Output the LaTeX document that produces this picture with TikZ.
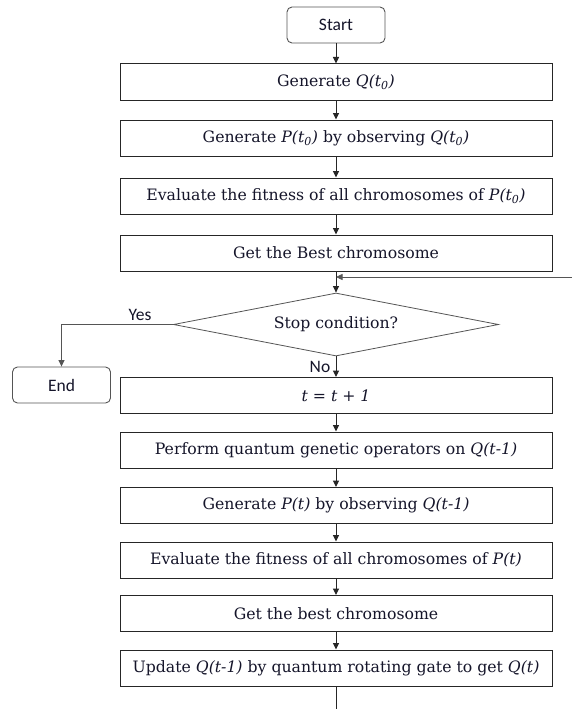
\documentclass[tikz,border=0pt]{standalone}
\usepackage{fontspec}
\setmainfont{DejaVu Serif}
\newfontfamily\calib{Carlito}
\usetikzlibrary{shapes.geometric,arrows.meta}
\definecolor{txt}{HTML}{15152A}
\definecolor{edge}{HTML}{262626}
\definecolor{thin}{HTML}{555555}
\begin{document}
\begin{tikzpicture}[x=1pt,y=-1pt,
  box/.style={draw=edge, line width=1pt, minimum width=432pt, minimum height=36pt, inner sep=0pt, text=txt, font=\fontsize{15.7}{18}\selectfont},
  term/.style={draw=thin, line width=0.9pt, rounded corners=5pt, minimum width=98pt, minimum height=36pt, inner sep=0pt, text=txt, font=\calib\fontsize{17.5}{20}\selectfont},
  dec/.style={diamond, draw=thin, line width=0.8pt, minimum width=325pt, minimum height=63pt, inner sep=0pt, shape aspect=5, text=txt, font=\fontsize{15.7}{18}\selectfont},
  arr/.style={-{Triangle[length=6.5pt,width=6pt]}, line width=1pt, draw=edge},
  lbl/.style={text=txt, inner sep=0pt, font=\calib\fontsize{17.5}{20}\selectfont}
]
\useasboundingbox[fill=white] (0,0) rectangle (572,709);

\node[term] (start) at (336,25) {Start};
\node[box] (q0) at (336,82) {Generate \textit{Q(t\textsubscript{0})}};
\node[box] (p0) at (336,138) {Generate \textit{P(t\textsubscript{0})} by observing \textit{Q(t\textsubscript{0})}};
\node[box] (ev0) at (336,196) {Evaluate the fitness of all chromosomes of \textit{P(t\textsubscript{0})}};
\node[box] (best0) at (336,253) {Get the Best chromosome};
\node[dec] (stop) at (336,324.5) {Stop condition?};
\node[term] (end) at (61.5,385) {End};
\node[box] (inc) at (336,395.5) {\textit{t = t + 1}};
\node[box] (perf) at (336,450) {Perform quantum genetic operators on \textit{Q(t-1)}};
\node[box] (gp) at (336,505.5) {Generate \textit{P(t)} by observing \textit{Q(t-1)}};
\node[box] (ev) at (336,560) {Evaluate the fitness of all chromosomes of \textit{P(t)}};
\node[box] (best) at (336,613.5) {Get the best chromosome};
\node[box] (upd) at (336,668) {Update \textit{Q(t-1)} by quantum rotating gate to get \textit{Q(t)}};

\coordinate (fbin) at (572,277);
\coordinate (fbjoin) at (336,277);
\coordinate (out) at (336,709);

\draw[arr] (start) -- (q0);
\draw[arr] (q0) -- (p0);
\draw[arr] (p0) -- (ev0);
\draw[arr] (ev0) -- (best0);
\draw[arr] (best0) -- (stop.north);
\draw[arr, draw=thin, line width=0.8pt] (fbin) -- (fbjoin);
\draw[arr, draw=thin, line width=0.8pt] (stop.west) -| (end.north);
\draw[arr] (stop.south) -- (inc);
\draw[arr] (inc) -- (perf);
\draw[arr] (perf) -- (gp);
\draw[arr] (gp) -- (ev);
\draw[arr] (ev) -- (best);
\draw[arr] (best) -- (upd);
\draw[line width=1pt, draw=edge] (upd) -- (out);

\node[lbl] (yes) at (140,315) {Yes};
\node[lbl] (no) at (320,367) {No};
\end{tikzpicture}
\end{document}
